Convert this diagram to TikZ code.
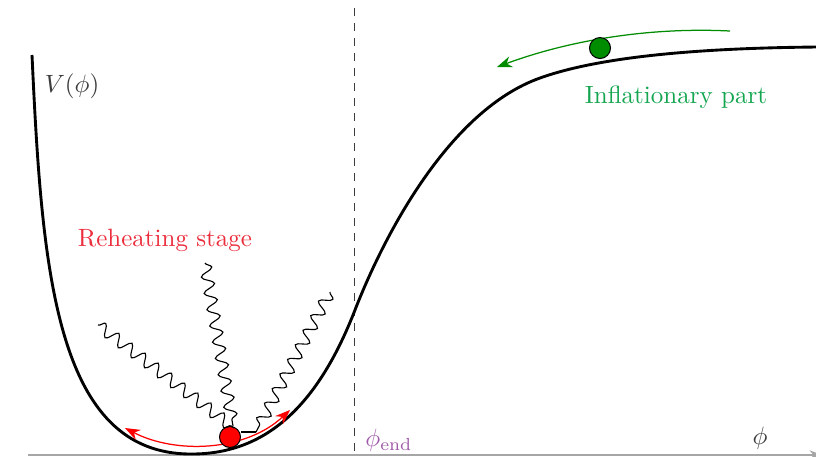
\documentclass[tikz,border=0pt]{standalone}
\usetikzlibrary{decorations.pathmorphing,arrows.meta}
\definecolor{redtxt}{RGB}{235,45,60}
\definecolor{greentxt}{RGB}{20,165,80}
\definecolor{purp}{RGB}{160,90,170}
\definecolor{darkg}{RGB}{60,60,60}
\definecolor{garrow}{RGB}{0,140,0}
\tikzset{
  wave/.style={decorate,decoration={snake,amplitude=2.4pt,segment length=6.6pt,post length=1pt},line width=0.45pt},
  ball/.style={circle,draw=black,line width=0.4pt,minimum size=8.4pt,inner sep=0pt},
  >={Stealth[length=6pt,width=4.5pt]},
}
\begin{document}
\begin{tikzpicture}[x=0.4pt,y=-0.4pt]
\useasboundingbox (0,0) rectangle (816,456);
% axis
\coordinate (ax0) at (28,455);
\coordinate (ax1) at (822,455);
\draw[gray!70,line width=0.5pt,-{Stealth[length=5pt]}] (ax0) -- (ax1);
% dashed line
\coordinate (d0) at (355,8);
\coordinate (d1) at (355,456);
\draw[darkg,dashed,line width=0.4pt] (d0) -- (d1);
% potential
\coordinate (p0) at (32,55);
\coordinate (p1) at (192,454);
\coordinate (p2) at (355,310);
\coordinate (p3) at (540,78);
\coordinate (p4) at (818,47);
\draw[line width=1.15pt] (p0) .. controls (42,270) and (55,455) .. (p1)
  .. controls (270,454) and (320,400) .. (p2)
  .. controls (385,233) and (450,110) .. (p3)
  .. controls (600,56.5) and (700,48) .. (p4);
% red arrow
\coordinate (ra0) at (125,428);
\coordinate (ra1) at (290,410);
\draw[red,line width=0.5pt,<->] (ra0) .. controls (175,454) and (245,452) .. (ra1);
% green arrow
\coordinate (ga0) at (730,31);
\coordinate (ga1) at (497,67);
\draw[garrow,line width=0.5pt,->] (ga0) .. controls (650,27) and (570,40) .. (ga1);
% balls
\node[ball,fill=red] (rb) at (230,437) {};
\node[ball,fill=garrow] (gb) at (600,48) {};
% waves
\coordinate (w1) at (98,325);
\coordinate (w1e) at (234,428);
\coordinate (w2) at (205,263);
\coordinate (w2e) at (233,426);
\coordinate (w3) at (330,292);
\coordinate (w3e) at (256,432);
\draw[wave] (w1) -- (w1e);
\draw[wave] (w2) -- (w2e);
\draw[wave] (w3) -- (w3e);
\draw[line width=0.45pt] (w3e) -- (rb.east |- w3e);
% labels
\node[darkg] (vl) at (72,86) {$V(\phi)$};
\node[redtxt] (rh) at (165,240) {Reheating stage};
\node[greentxt] (inf) at (676,97) {Inflationary part};
\node[purp] (pe) at (389,440) {$\phi_{\mathrm{end}}$};
\node[darkg] (ph) at (760,438) {$\phi$};
\end{tikzpicture}
\end{document}
